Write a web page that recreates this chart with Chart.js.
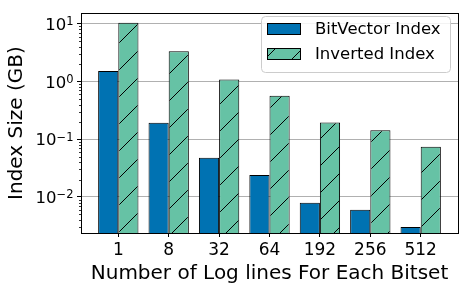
<!DOCTYPE html>
<html>
<head>
<meta charset="utf-8">
<script src="https://cdn.jsdelivr.net/npm/chart.js@4"></script>
<style>
  body { margin: 0; background: #fff; }
  canvas { display: block; }
</style>
</head>
<body>
<canvas id="chart" width="467" height="290"></canvas>
<script>
const categories = ['1', '8', '32', '64', '192', '256', '512'];
const bitVector = [1.53, 0.193, 0.048, 0.024, 0.0079, 0.006, 0.003];
const inverted = [10.4, 3.34, 1.08, 0.57, 0.195, 0.143, 0.074];
const yTickValues = [0.01, 0.1, 1, 10];
const yTickExponents = ['\u22122', '\u22121', '0', '1'];

const BLUE = '#0072b2';
const GREEN = '#66c2a5';

Chart.defaults.font.family = 'DejaVu Sans';
Chart.defaults.color = '#000';

// diagonal "/" hatch like matplotlib
function hatch(color) {
  const s = 27;
  const c = document.createElement('canvas');
  c.width = s; c.height = s;
  const g = c.getContext('2d');
  g.fillStyle = color;
  g.fillRect(0, 0, s, s);
  g.strokeStyle = '#000';
  g.lineWidth = 1;
  g.beginPath();
  g.moveTo(0, s); g.lineTo(s, 0);
  g.moveTo(-2, 2); g.lineTo(2, -2);
  g.moveTo(s - 2, s + 2); g.lineTo(s + 2, s - 2);
  g.stroke();
  return g.createPattern(c, 'repeat');
}
const greenHatch = hatch(GREEN);

// spines, minor ticks, 10^n labels and legend
const decor = {
  id: 'decor',
  afterDatasetsDraw(chart) {
    const { ctx, chartArea: a, scales } = chart;
    const y = scales.y;
    ctx.save();
    // minor ticks on the log axis
    ctx.strokeStyle = '#000';
    ctx.lineWidth = 0.8;
    ctx.beginPath();
    for (let e = -3; e <= 1; e++) {
      for (let k = 2; k <= 9; k++) {
        const v = k * Math.pow(10, e);
        if (v < y.min || v > y.max) continue;
        const py = Math.round(y.getPixelForValue(v)) + 0.5;
        ctx.moveTo(a.left - 2, py);
        ctx.lineTo(a.left, py);
      }
    }
    ctx.stroke();
    // frame
    ctx.lineWidth = 1;
    ctx.strokeRect(Math.round(a.left) + 0.5, Math.round(a.top) + 0.5,
      Math.round(a.right - a.left), Math.round(a.bottom - a.top));

    // y tick labels as 10 with a raised exponent
    ctx.fillStyle = '#000';
    ctx.textBaseline = 'alphabetic';
    ctx.textAlign = 'left';
    yTickValues.forEach((v, i) => {
      const py = y.getPixelForValue(v);
      const right = a.left - 7.5;
      ctx.font = '11.5px "DejaVu Sans"';
      const ew = ctx.measureText(yTickExponents[i]).width;
      ctx.fillText(yTickExponents[i], right - ew, py + 1.5);
      ctx.font = '16.5px "DejaVu Sans"';
      const bw = ctx.measureText('10').width;
      ctx.fillText('10', right - ew - bw, py + 6.2);
    });

    // legend
    const lx = 261, ly = 16, lw = 189, lh = 56;
    ctx.beginPath();
    ctx.roundRect(lx + 0.5, ly + 0.5, lw, lh, 4);
    ctx.fillStyle = 'rgba(255,255,255,0.85)';
    ctx.fill();
    ctx.strokeStyle = '#cccccc';
    ctx.stroke();
    const items = [
      { label: 'BitVector Index', fill: BLUE, top: 23.5 },
      { label: 'Inverted Index', fill: greenHatch, top: 48.5 }
    ];
    ctx.font = '16.5px "DejaVu Sans"';
    ctx.textBaseline = 'middle';
    items.forEach(it => {
      ctx.fillStyle = it.fill;
      ctx.fillRect(267.5, it.top, 33, 11);
      ctx.strokeStyle = '#000';
      ctx.strokeRect(267.5, it.top, 33, 11);
      ctx.fillStyle = '#000';
      ctx.fillText(it.label, 315, it.top + 6.5);
    });
    ctx.restore();
  }
};

new Chart(document.getElementById('chart'), {
  type: 'bar',
  data: {
    datasets: [
      {
        label: 'BitVector Index',
        data: bitVector.map((v, i) => ({ x: i, y: v })),
        backgroundColor: BLUE,
        borderColor: '#000',
        borderWidth: 1
      },
      {
        label: 'Inverted Index',
        data: inverted.map((v, i) => ({ x: i, y: v })),
        backgroundColor: greenHatch,
        borderColor: '#000',
        borderWidth: 1
      }
    ]
  },
  options: {
    responsive: false,
    animation: false,
    categoryPercentage: 0.8,
    barPercentage: 1.0,
    layout: { padding: { top: 7, right: 9, left: 0, bottom: 0 } },
    plugins: {
      legend: { display: false },
      tooltip: { enabled: false }
    },
    scales: {
      x: {
        type: 'linear',
        offset: false,
        min: -0.74,
        max: 6.74,
        afterBuildTicks: s => { s.ticks = categories.map((c, i) => ({ value: i })); },
        afterFit: s => { s.height = 57; },
        ticks: {
          autoSkip: false,
          maxRotation: 0,
          padding: 3,
          font: { size: 17 },
          callback: v => categories[v]
        },
        grid: { offset: false, drawOnChartArea: false, tickLength: 4, tickColor: '#000' },
        border: { display: false },
        title: {
          display: true,
          text: 'Number of Log lines For Each Bitset',
          font: { size: 20 },
          padding: { top: 0, bottom: 4 }
        }
      },
      y: {
        type: 'logarithmic',
        min: 0.00237,
        max: 15.3,
        afterBuildTicks: s => { s.ticks = yTickValues.map(v => ({ value: v, major: true })); },
        afterFit: s => { s.width = 81; },
        ticks: {
          autoSkip: false,
          padding: 3,
          font: { size: 17 },
          color: 'rgba(0,0,0,0)',
          callback: v => '10'
        },
        grid: { color: '#b0b0b0', lineWidth: 1, tickLength: 4, tickColor: '#000' },
        border: { display: false },
        title: {
          display: true,
          text: 'Index Size (GB)',
          font: { size: 20 },
          padding: { top: 5, bottom: 0 }
        }
      }
    }
  },
  plugins: [decor]
});
</script>
</body>
</html>
